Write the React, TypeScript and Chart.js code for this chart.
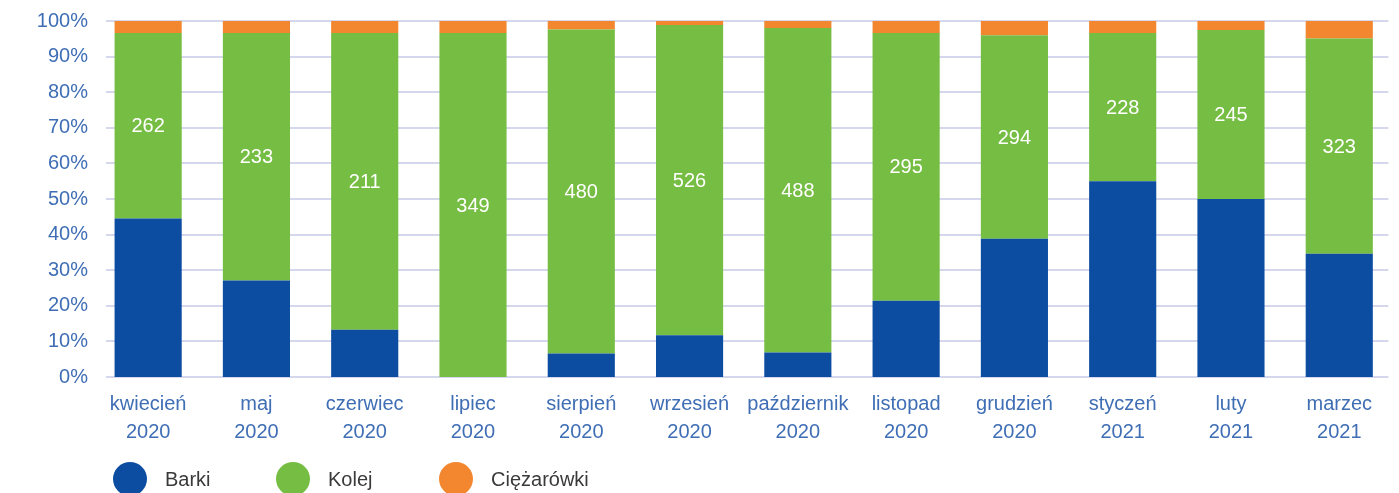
import React, { useEffect, useRef } from "react";
import { Chart, registerables } from "chart.js";

Chart.register(...registerables);

const monthLabels: string[][] = [
  ["kwiecień", "2020"],
  ["maj", "2020"],
  ["czerwiec", "2020"],
  ["lipiec", "2020"],
  ["sierpień", "2020"],
  ["wrzesień", "2020"],
  ["październik", "2020"],
  ["listopad", "2020"],
  ["grudzień", "2020"],
  ["styczeń", "2021"],
  ["luty", "2021"],
  ["marzec", "2021"],
];

const barki = [44.5, 27.1, 13.3, 0, 6.6, 11.7, 6.9, 21.4, 38.8, 55.0, 50.0, 34.6];
const kolej = [52.1, 69.5, 83.3, 96.6, 91.0, 87.2, 91.1, 75.2, 57.2, 41.6, 47.5, 60.5];
const ciezarowki = [3.4, 3.4, 3.4, 3.4, 2.4, 1.1, 2.0, 3.4, 4.0, 3.4, 2.5, 4.9];
const kolejLabels = [262, 233, 211, 349, 480, 526, 488, 295, 294, 228, 245, 323];

const seriesNames = ["Barki", "Kolej", "Ciężarówki"];
const seriesColors = ["#0d4da1", "#76bd43", "#f28730"];

const FONT = "'Liberation Sans', Arial, Helvetica, sans-serif";
const AXIS_COLOR = "#3f6eb5";
const GRID_COLOR = "#d5d7ec";

const gridPlugin = {
  id: "customGrid",
  beforeDatasetsDraw(chart: any) {
    const { ctx, chartArea, scales } = chart;
    const y = scales.y;
    ctx.save();
    ctx.strokeStyle = GRID_COLOR;
    ctx.lineWidth = 2;
    y.ticks.forEach((t: any) => {
      const py = Math.round(y.getPixelForValue(t.value));
      ctx.beginPath();
      ctx.moveTo(chartArea.left + 12, py);
      ctx.lineTo(chartArea.right - 5, py);
      ctx.stroke();
    });
    ctx.restore();
  },
};

const valueLabelPlugin = {
  id: "valueLabels",
  afterDatasetsDraw(chart: any) {
    const { ctx } = chart;
    const meta = chart.getDatasetMeta(1);
    ctx.save();
    ctx.fillStyle = "#ffffff";
    ctx.font = `20px ${FONT}`;
    ctx.textAlign = "center";
    ctx.textBaseline = "middle";
    meta.data.forEach((el: any, i: number) => {
      const cy = (el.y + el.base) / 2;
      ctx.fillText(String(kolejLabels[i]), el.x, cy + 1);
    });
    ctx.restore();
  },
};

const legendPlugin = {
  id: "customLegend",
  afterDraw(chart: any) {
    const { ctx } = chart;
    const startX = 130;
    const step = 163;
    const cy = 479;
    ctx.save();
    seriesNames.forEach((name, i) => {
      const cx = startX + i * step;
      ctx.fillStyle = seriesColors[i];
      ctx.beginPath();
      ctx.arc(cx, cy, 17, 0, Math.PI * 2);
      ctx.fill();
      ctx.fillStyle = "#3a3a3a";
      ctx.font = `20px ${FONT}`;
      ctx.textAlign = "left";
      ctx.textBaseline = "middle";
      ctx.fillText(name, cx + 35, cy + 1);
    });
    ctx.restore();
  },
};

export default function App() {
  const canvasRef = useRef<HTMLCanvasElement | null>(null);

  useEffect(() => {
    if (!canvasRef.current) return;
    const data = [barki, kolej, ciezarowki];
    const chart = new Chart(canvasRef.current, {
      type: "bar",
      data: {
        labels: monthLabels,
        datasets: seriesNames.map((name, i) => ({
          label: name,
          data: data[i],
          backgroundColor: seriesColors[i],
          borderWidth: 0,
          categoryPercentage: 1,
          barPercentage: 0.62,
        })),
      },
      options: {
        animation: false,
        responsive: false,
        maintainAspectRatio: false,
        layout: { padding: { top: 21, right: 5.6, left: 0, bottom: 0 } },
        plugins: {
          legend: { display: false },
          tooltip: { enabled: false },
        },
        scales: {
          x: {
            stacked: true,
            grid: { display: false, drawTicks: false },
            border: { display: false },
            ticks: {
              color: AXIS_COLOR,
              font: { family: FONT, size: 20, lineHeight: 1.4 },
              padding: 13,
              maxRotation: 0,
              autoSkip: false,
            },
            afterFit(scale: any) {
              scale.height = 116;
            },
          },
          y: {
            stacked: true,
            min: 0,
            max: 100,
            grid: { display: false, drawTicks: false },
            border: { display: false },
            ticks: {
              stepSize: 10,
              color: AXIS_COLOR,
              font: { family: FONT, size: 20 },
              padding: 6,
              callback: (v: any) => `${v}%`,
            },
            afterFit(scale: any) {
              scale.width = 94;
            },
          },
        },
      },
      plugins: [gridPlugin, valueLabelPlugin, legendPlugin],
    });
    return () => chart.destroy();
  }, []);

  return (
    <div style={{ position: "absolute", left: 0, top: 0, width: 1399, height: 493, background: "#fff" }}>
      <canvas ref={canvasRef} width={1399} height={493} style={{ width: 1399, height: 493, display: "block" }} />
    </div>
  );
}
